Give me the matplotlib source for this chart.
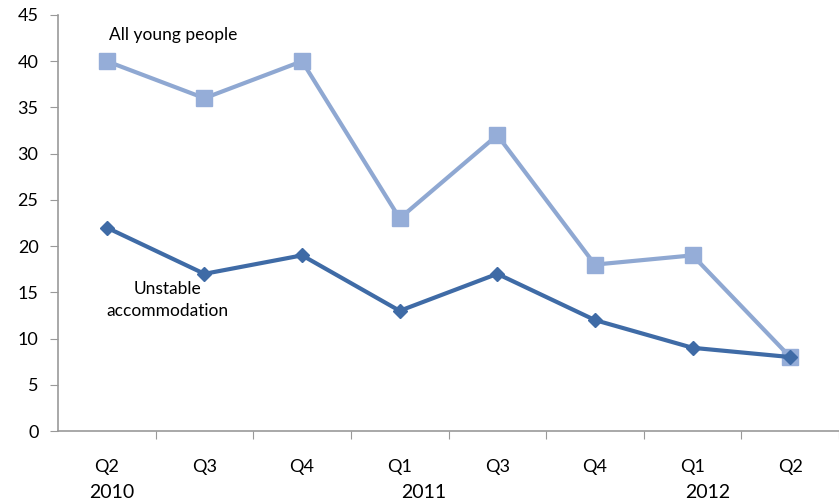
import matplotlib
matplotlib.use("Agg")
import matplotlib.pyplot as plt

# Quarter labels and the two series
quarters = ["Q2", "Q3", "Q4", "Q1", "Q3", "Q4", "Q1", "Q2"]
years = ["2010", "2011", "2012"]
year_pos = [0.05, 3.25, 6.15]  # where the year labels sit under the quarters
all_young = [40, 36, 40, 23, 32, 18, 19, 8]
unstable = [22, 17, 19, 13, 17, 12, 9, 8]

plt.rcParams["font.family"] = ["Lato", "DejaVu Sans"]

fig = plt.figure(figsize=(8.39, 5.04), dpi=100)
ax = fig.add_axes([58 / 839, 1 - 431 / 504, 1 - 58 / 839, (431 - 15) / 504])

x = list(range(len(quarters)))
ax.plot(x, all_young, color="#8FA8D2", lw=3, marker="s", ms=11,
        mfc="#95ADD8", mec="#95ADD8", zorder=3)
ax.plot(x, unstable, color="#3F6BA6", lw=3, marker="D", ms=7,
        mfc="#3F6BA6", mec="#3F6BA6", zorder=4)

ax.set_ylim(0, 45)
ax.set_yticks(range(0, 46, 5))
ax.set_xlim(-0.5, 7.43)

# category ticks between bands, labels at centres
ax.set_xticks([i + 0.5 for i in range(len(quarters))])
ax.set_xticklabels([])
ax.set_xticks(x, minor=True)
ax.set_xticklabels(quarters, minor=True)
ax.tick_params(axis="x", which="minor", length=0, pad=20, labelsize=13)
ax.tick_params(axis="x", which="major", length=6, direction="out", color="#999999")
ax.tick_params(axis="y", length=6, color="#999999", labelsize=13, pad=8)

for s in ["top", "right"]:
    ax.spines[s].set_visible(False)
for s in ["left", "bottom"]:
    ax.spines[s].set_color("#999999")
    ax.spines[s].set_linewidth(1.2)

for yl, xp in zip(years, year_pos):
    ax.text(xp, -6.6, yl, ha="center", va="center", fontsize=14)

ax.text(0.68, 42.8, "All young people", ha="center", va="center", fontsize=12.5)
ax.text(0.62, 14.2, "Unstable\naccommodation", ha="center", va="center",
        fontsize=12.5, linespacing=1.45)

fig.savefig("out.png", dpi=100)
